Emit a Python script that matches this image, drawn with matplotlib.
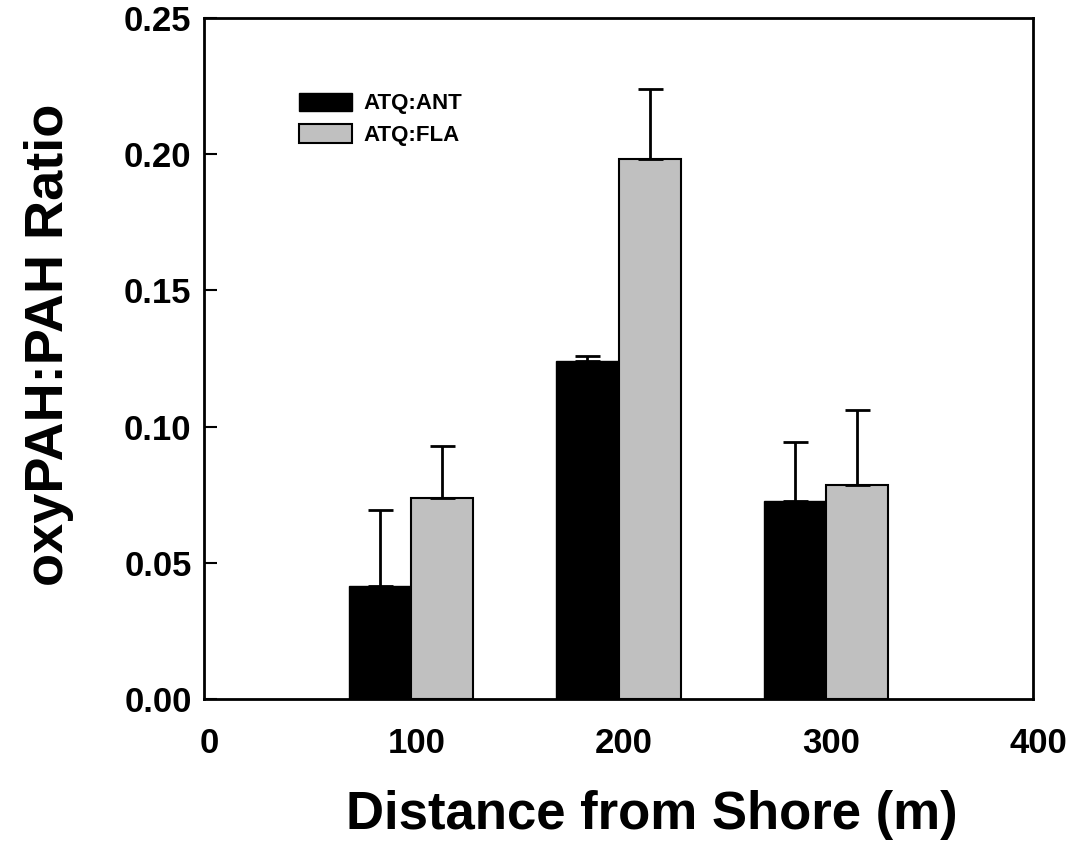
#!/usr/bin/env python3
"""Bar chart of oxyPAH:PAH ratios versus distance from shore."""

import matplotlib
matplotlib.use('Agg')
import matplotlib.pyplot as plt
import matplotlib.transforms as mtransforms

# Distance from shore (m) and ratios
distances = [100, 200, 300]
atq_ant = [0.0415, 0.124, 0.0728]
atq_ant_err = [0.0280, 0.002, 0.0214]
atq_fla = [0.0739, 0.1984, 0.0787]
atq_fla_err = [0.0190, 0.0256, 0.0273]

BAR_WIDTH = 30

plt.rcParams['font.family'] = ['Liberation Sans', 'DejaVu Sans']
plt.rcParams['font.weight'] = 'bold'

fig = plt.figure(figsize=(10.75, 8.43), dpi=100)
ax = fig.add_axes([0.1898, 0.1708, 0.7712, 0.8078])

ant_x = [d - BAR_WIDTH / 2 for d in distances]
fla_x = [d + BAR_WIDTH / 2 for d in distances]

err_style = dict(ecolor='black', elinewidth=2, capsize=9, capthick=2)
ax.bar(ant_x, atq_ant, width=BAR_WIDTH, color='black', edgecolor='black',
       linewidth=1, label='ATQ:ANT',
       yerr=[[0] * 3, atq_ant_err], error_kw=err_style, zorder=2)
ax.bar(fla_x, atq_fla, width=BAR_WIDTH, color='#c0c0c0', edgecolor='black',
       linewidth=1.5, label='ATQ:FLA',
       yerr=[[0] * 3, atq_fla_err], error_kw=err_style, zorder=2)

ax.set_xlim(0, 400)
ax.set_ylim(0, 0.25)
ax.set_xticks([0, 100, 200, 300, 400])
ax.set_yticks([0.0, 0.05, 0.10, 0.15, 0.20, 0.25])
ax.set_yticklabels(['0.00', '0.05', '0.10', '0.15', '0.20', '0.25'])

ax.tick_params(axis='y', direction='in', length=9, width=1.5,
               labelsize=25, pad=9)
ax.tick_params(axis='x', length=0, labelsize=25, pad=20)
for lab in ax.get_xticklabels() + ax.get_yticklabels():
    lab.set_fontweight('bold')

# x tick labels sit slightly right of their positions in the original
shift = mtransforms.ScaledTranslation(5 / 100, 0, fig.dpi_scale_trans)
for lab in ax.get_xticklabels():
    lab.set_transform(lab.get_transform() + shift)

for spine in ax.spines.values():
    spine.set_linewidth(2)

ax.set_xlabel('Distance from Shore (m)', fontsize=38, fontweight='bold')
ax.set_ylabel('oxyPAH:PAH Ratio', fontsize=39, fontweight='bold')
ax.xaxis.set_label_coords(0.54, -0.134)
ax.yaxis.set_label_coords(-0.157, 0.52)

ax.legend(loc='upper left', bbox_to_anchor=(0.09, 0.92), frameon=False,
          handlelength=2.4, handleheight=0.9,
          handletextpad=0.5, labelspacing=0.45,
          prop={'weight': 'bold', 'size': 16})

fig.savefig('out.png', dpi=100)
